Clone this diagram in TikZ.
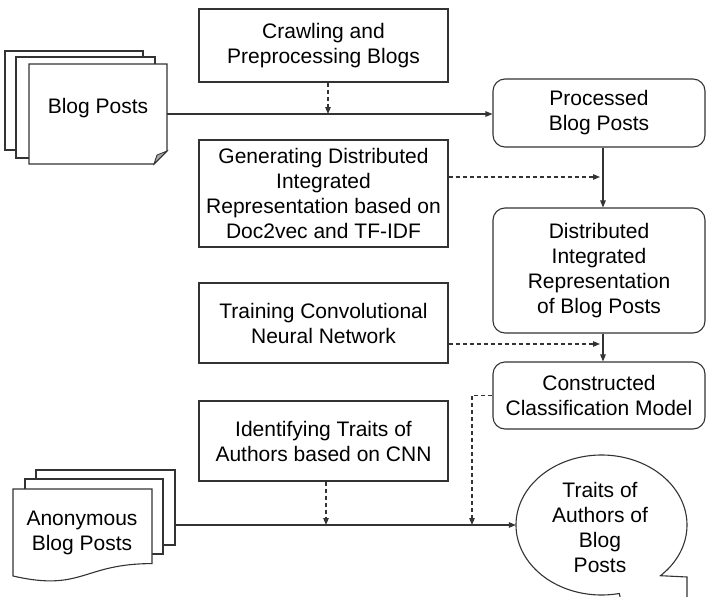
\documentclass[tikz,border=0pt]{standalone}
\usepackage{fontspec}
\setmainfont{Liberation Sans}
\usetikzlibrary{arrows.meta,calc,shapes.geometric}
\begin{document}
\begin{tikzpicture}[x=1pt,y=-1pt,
  every node/.style={font=\fontsize{21}{25}\selectfont, text=black},
  line/.style={draw=black!80, line width=1.1pt},
  stepbox/.style={line, fill=white, align=center, inner sep=0pt, minimum width=249},
  databox/.style={line, fill=white, align=center, inner sep=0pt, minimum width=212, rounded corners=12pt},
  sheet/.style={line, fill=white},
  arr/.style={line, -{Triangle[length=7pt,width=5.5pt]}},
  darr/.style={line, dash pattern=on 4pt off 3pt, -{Triangle[length=7pt,width=5.5pt]}}
]
\useasboundingbox (0,0) rectangle (707,597);

% process boxes
\node[stepbox, minimum height=73] (crawl) at (323.5,45.5) {Crawling and\\Preprocessing Blogs};
\node[stepbox, minimum height=107] (gen) at (323.5,193.5) {Generating Distributed\\Integrated\\Representation based on\\Doc2vec and TF-IDF};
\node[stepbox, minimum height=80] (train) at (323.5,323) {Training Convolutional\\Neural Network};
\node[stepbox, minimum height=80] (ident) at (323.5,441) {Identifying Traits of\\Authors based on CNN};

% data boxes
\node[databox, minimum height=68] (proc) at (599,113) {Processed\\Blog Posts};
\node[databox, minimum height=125] (dist) at (599,270.5) {Distributed\\Integrated\\Representation\\of Blog Posts};
\node[databox, minimum height=67] (cons) at (599,395.5) {Constructed\\Classification Model};

% blog posts stack
\draw[sheet] (5,51) rectangle (143,150);
\draw[sheet] (16,57) rectangle (155,158);
\draw[sheet] (29,64) -- (167,64) -- (167,151) -- (154,164) -- (29,164) -- cycle;
\draw[line, line width=0.8pt, fill=black!35] (167,151) -- (154,164) -- (157,155) -- cycle;
\node (blog) at (98,108) {Blog Posts};
\coordinate (blogR) at (167,114);

% anonymous blog posts stack
\draw[sheet] (36,470) rectangle (175,545);
\draw[sheet] (25,479) rectangle (163,554);
\draw[sheet] (13,489) -- (152,489) -- (152,563.6) .. controls (82.5,563.6) and (82.5,592) .. (13,576) -- cycle;
\node[align=center] (anon) at (82,533) {Anonymous\\Blog Posts};
\coordinate (anonR) at (175,525);

% callout
\node[ellipse, minimum width=171, minimum height=140, inner sep=0pt] (traits) at (601.5,525) {};
\node[align=center] (traitstext) at (600,527.5) {Traits of\\Authors of\\Blog\\Posts};
\begin{scope}
\clip (0,0) rectangle (707,597);
\draw[line] (687,640) -- (687,577) -- plot[domain=-46.4:282, samples=160, smooth] ({601.5+85.5*cos(\x)},{525-70*sin(\x)}) -- (630,640);
\end{scope}

% connectors
\coordinate (vx) at (603,0);
\coordinate (drop) at (472,525);
\draw[arr] (blogR) -- (blogR -| proc.west);
\draw[darr] ([xshift=4.5pt]crawl.south) -- ([xshift=4.5pt]crawl.south |- blogR);
\draw[arr] (proc.south -| vx) -- (dist.north -| vx);
\draw[arr] (dist.south -| vx) -- (cons.north -| vx);
\draw[darr] ([yshift=16.5pt]gen.east) -- ($([yshift=16.5pt]gen.east -| vx)+(-3,0)$);
\draw[darr] ([yshift=-21pt]train.east) -- ($([yshift=-21pt]train.east -| vx)+(-3,0)$);
\draw[darr] (cons.west) -| (drop);
\draw[darr] ([xshift=2.5pt]ident.south) -- ([xshift=2.5pt]ident.south |- traits.west);
\draw[arr] (anonR) -- (traits.west);
\end{tikzpicture}
\end{document}
